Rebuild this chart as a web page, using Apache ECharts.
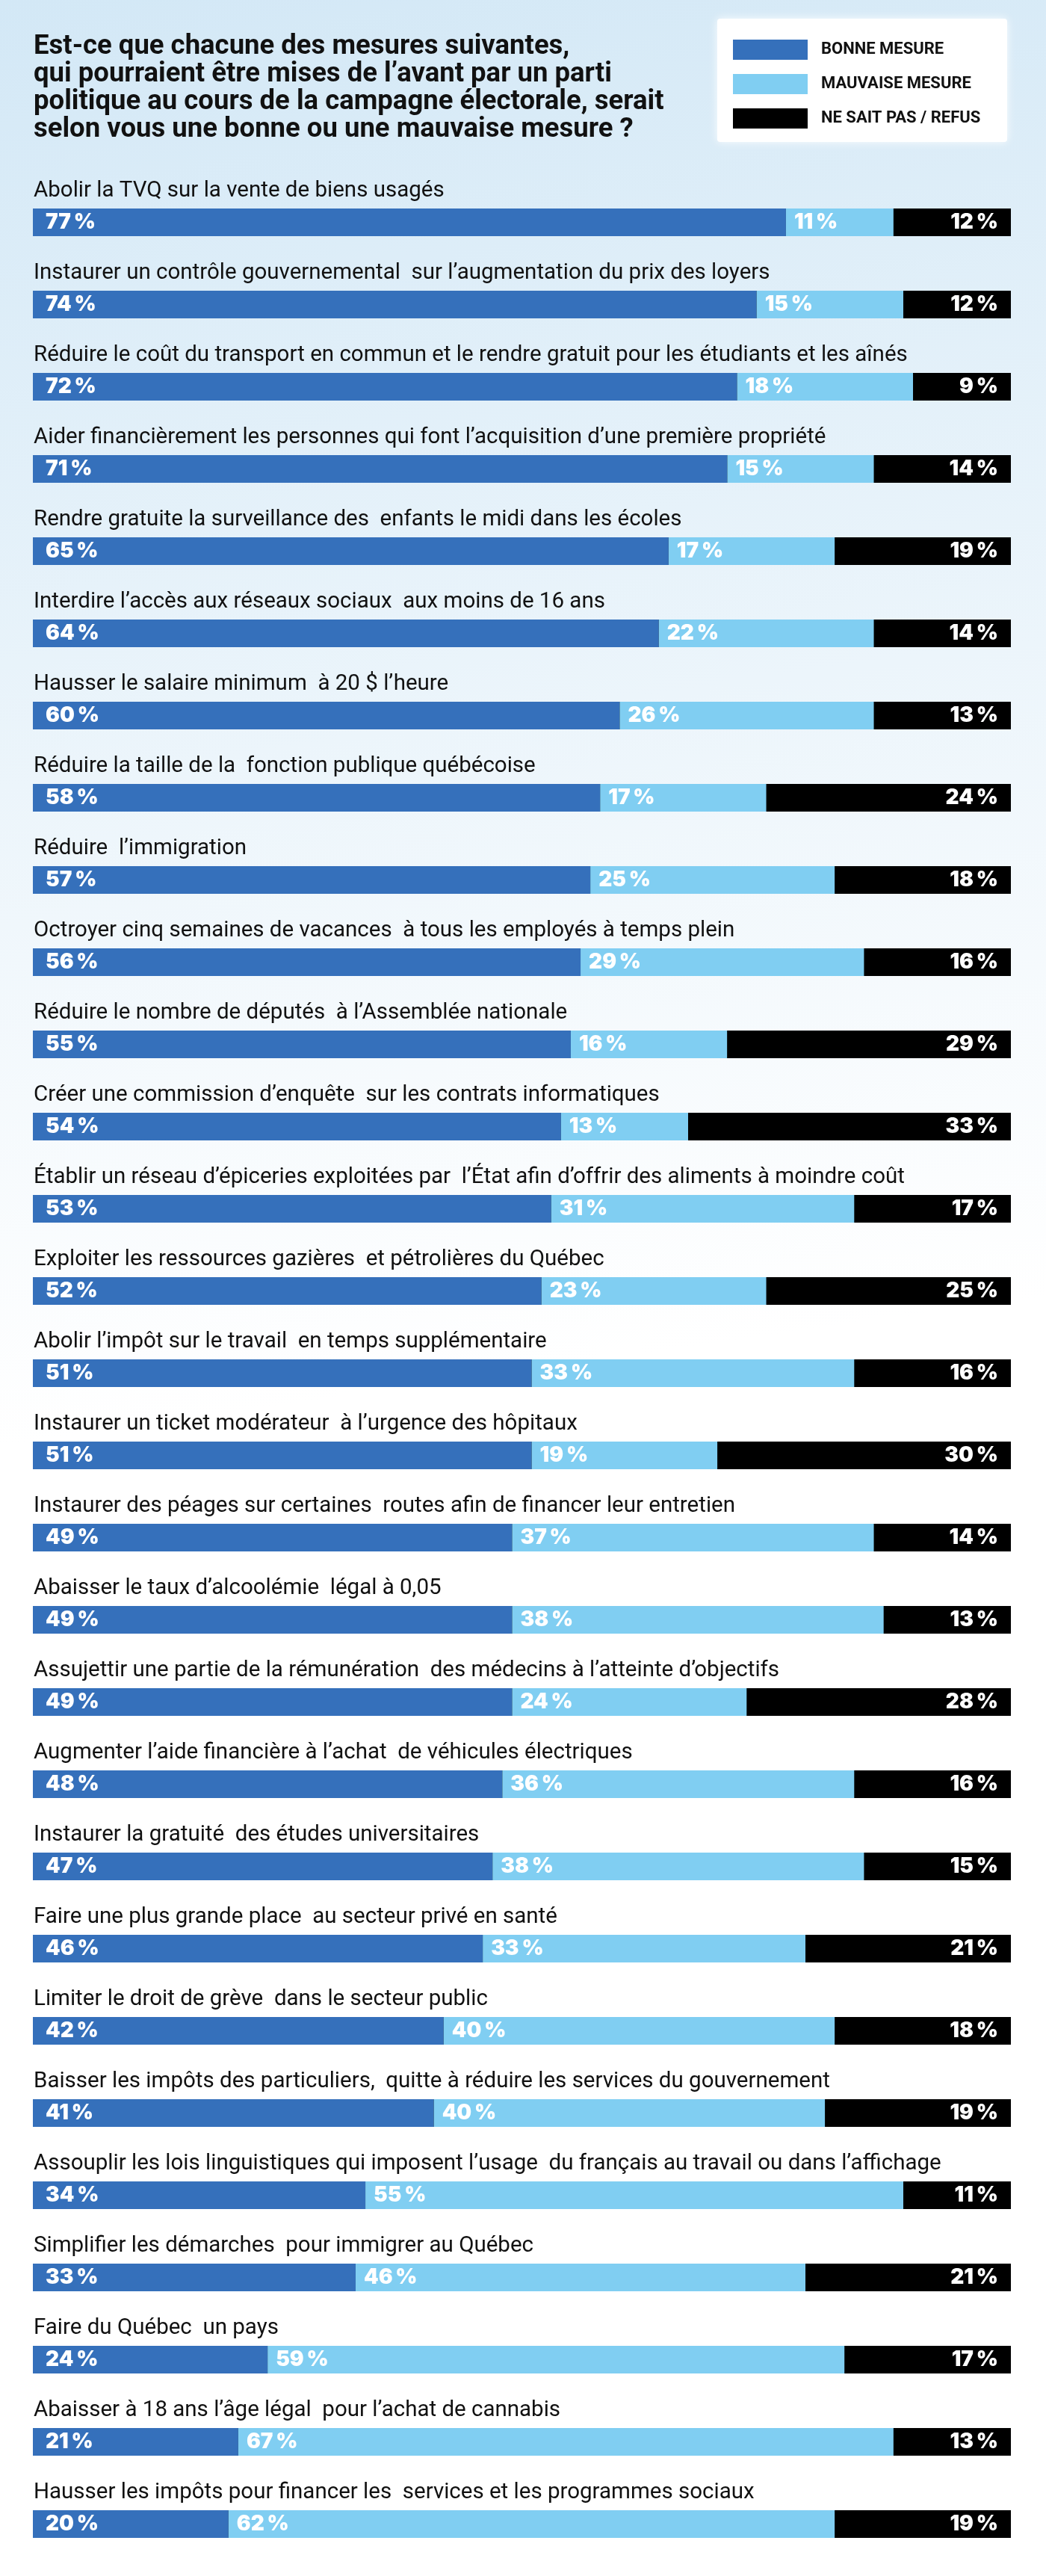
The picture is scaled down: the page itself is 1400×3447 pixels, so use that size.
<!DOCTYPE html>
<html lang="fr">
<head>
<meta charset="UTF-8">
<title>Mesures électorales</title>
<script src="https://cdn.jsdelivr.net/npm/echarts@6.0.0/dist/echarts.min.js"></script>
<style>
  * { margin: 0; padding: 0; box-sizing: border-box; }
  html, body { width: 1400px; height: 3447px; background: #fff; }
  #chart { width: 1400px; height: 3447px; }
</style>
</head>
<body>
<div id="chart"></div>
<script>
  // Mesures (ordre du graphique, de haut en bas)
  const mesures = [
    'Abolir la TVQ sur la vente de biens usagés',
    'Instaurer un contrôle gouvernemental  sur l’augmentation du prix des loyers',
    'Réduire le coût du transport en commun et le rendre gratuit pour les étudiants et les aînés',
    'Aider financièrement les personnes qui font l’acquisition d’une première propriété',
    'Rendre gratuite la surveillance des  enfants le midi dans les écoles',
    'Interdire l’accès aux réseaux sociaux  aux moins de 16 ans',
    'Hausser le salaire minimum  à 20 $ l’heure',
    'Réduire la taille de la  fonction publique québécoise',
    'Réduire  l’immigration',
    'Octroyer cinq semaines de vacances  à tous les employés à temps plein',
    'Réduire le nombre de députés  à l’Assemblée nationale',
    'Créer une commission d’enquête  sur les contrats informatiques',
    'Établir un réseau d’épiceries exploitées par  l’État afin d’offrir des aliments à moindre coût',
    'Exploiter les ressources gazières  et pétrolières du Québec',
    'Abolir l’impôt sur le travail  en temps supplémentaire',
    'Instaurer un ticket modérateur  à l’urgence des hôpitaux',
    'Instaurer des péages sur certaines  routes afin de financer leur entretien',
    'Abaisser le taux d’alcoolémie  légal à 0,05',
    'Assujettir une partie de la rémunération  des médecins à l’atteinte d’objectifs',
    'Augmenter l’aide financière à l’achat  de véhicules électriques',
    'Instaurer la gratuité  des études universitaires',
    'Faire une plus grande place  au secteur privé en santé',
    'Limiter le droit de grève  dans le secteur public',
    'Baisser les impôts des particuliers,  quitte à réduire les services du gouvernement',
    'Assouplir les lois linguistiques qui imposent l’usage  du français au travail ou dans l’affichage',
    'Simplifier les démarches  pour immigrer au Québec',
    'Faire du Québec  un pays',
    'Abaisser à 18 ans l’âge légal  pour l’achat de cannabis',
    'Hausser les impôts pour financer les  services et les programmes sociaux'
  ];

  const bonne = [77, 74, 72, 71, 65, 64, 60, 58, 57, 56, 55, 54, 53, 52, 51, 51, 49, 49, 49, 48, 47, 46, 42, 41, 34, 33, 24, 21, 20];
  const mauvaise = [11, 15, 18, 15, 17, 22, 26, 17, 25, 29, 16, 13, 31, 23, 33, 19, 37, 38, 24, 36, 38, 33, 40, 40, 55, 46, 59, 67, 62];
  const nspRefus = [12, 12, 9, 14, 19, 14, 13, 24, 18, 16, 29, 33, 17, 25, 16, 30, 14, 13, 28, 16, 15, 21, 18, 19, 11, 21, 17, 13, 19];

  const BLEU = '#3570bb';
  const BLEU_PALE = '#80cef2';
  const NOIR = '#000000';

  const narrow = "'Roboto', sans-serif";
  const heavy = "'Inter', 'Roboto', sans-serif";

  const pct = function (v) { return v + '\u2009%'; };

  const chart = echarts.init(document.getElementById('chart'), null, { renderer: 'canvas' });

  const option = {
    backgroundColor: new echarts.graphic.LinearGradient(0, 0, 0.35, 1, [
      { offset: 0, color: '#d3e8f6' },
      { offset: 0.3, color: '#ecf5fb' },
      { offset: 0.55, color: '#ffffff' },
      { offset: 1, color: '#ffffff' }
    ]),
    animation: false,
    title: {
      text: 'Est-ce que chacune des mesures suivantes,\nqui pourraient être mises de l’avant par un parti\npolitique au cours de la campagne électorale, serait\nselon vous une bonne ou une mauvaise mesure ?',
      left: 40,
      top: 39,
      textStyle: {
        fontFamily: narrow,
        fontWeight: 'bold',
        fontSize: 36.5,
        lineHeight: 37,
        color: '#111'
      }
    },
    graphic: [{
      type: 'rect',
      left: 960,
      top: 25,
      shape: { width: 388, height: 165, r: 4 },
      style: { fill: '#ffffff', shadowBlur: 12, shadowColor: 'rgba(255,255,255,0.9)' },
      z: 0
    }],
    legend: {
      orient: 'vertical',
      left: 976,
      top: 48,
      itemWidth: 100,
      itemHeight: 27,
      itemGap: 19,
      icon: 'rect',
      selectedMode: false,
      textStyle: {
        fontFamily: narrow,
        fontWeight: 'bold',
        fontSize: 22,
        color: '#111',
        padding: [0, 0, 0, 13]
      },
      data: ['BONNE MESURE', 'MAUVAISE MESURE', 'NE SAIT PAS / REFUS']
    },
    grid: {
      left: 44,
      right: 47,
      top: 242.5,
      bottom: 14.5,
      containLabel: false
    },
    xAxis: {
      type: 'value',
      min: 0,
      max: 100,
      show: false
    },
    yAxis: [{
      type: 'category',
      inverse: true,
      data: mesures,
      axisLine: { show: false },
      axisTick: { show: false },
      axisLabel: {
        inside: true,
        margin: 1,
        align: 'left',
        verticalAlign: 'bottom',
        padding: [0, 0, 27, 0],
        fontFamily: narrow,
        fontSize: 29.5,
        color: '#111'
      }
    }, {
      type: 'category',
      position: 'right',
      inverse: true,
      z: 10,
      data: mesures,
      axisLine: { show: false },
      axisTick: { show: false },
      axisLabel: {
        inside: true,
        margin: 17,
        align: 'right',
        verticalAlign: 'middle',
        fontFamily: heavy,
        fontWeight: 900,
        fontSize: 28,
        color: '#fff',
        formatter: function (v, i) { return pct(nspRefus[i]); }
      }
    }],
    series: [{
      name: 'BONNE MESURE',
      type: 'bar',
      stack: 'total',
      barWidth: 37,
      data: bonne,
      itemStyle: { color: BLEU },
      showBackground: true,
      backgroundStyle: { color: NOIR },
      label: {
        show: true,
        position: 'insideLeft',
        distance: 17,
        fontFamily: heavy,
        fontWeight: 900,
        fontSize: 28,
        color: '#fff',
        formatter: function (p) { return pct(p.value); }
      }
    }, {
      name: 'MAUVAISE MESURE',
      type: 'bar',
      stack: 'total',
      barWidth: 37,
      data: mauvaise,
      itemStyle: { color: BLEU_PALE },
      label: {
        show: true,
        position: 'insideLeft',
        distance: 11,
        fontFamily: heavy,
        fontWeight: 900,
        fontSize: 28,
        color: '#fff',
        formatter: function (p) { return pct(p.value); }
      }
    }, {
      name: 'NE SAIT PAS / REFUS',
      type: 'bar',
      stack: 'total',
      barWidth: 37,
      data: nspRefus,
      itemStyle: { color: NOIR }
    }]
  };

  chart.setOption(option);

  window.addEventListener('resize', function () {
    chart.resize();
  });
</script>
</body>
</html>
